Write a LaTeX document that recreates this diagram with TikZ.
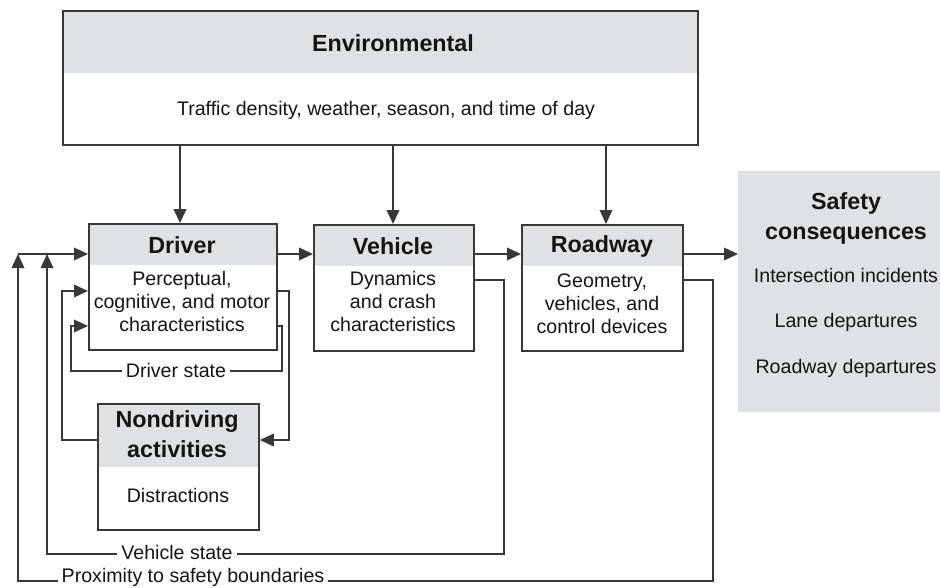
\documentclass[tikz,border=0pt]{standalone}
\usepackage{fontspec}
\setmainfont{Liberation Sans}
\usetikzlibrary{arrows.meta}
\definecolor{linec}{HTML}{383838}
\definecolor{hdr}{HTML}{E0E1E3}
\definecolor{txt}{HTML}{151515}
\begin{document}
\begin{tikzpicture}[x=1pt,y=-1pt,
  box/.style={draw=linec, line width=1.9pt, fill=white, inner sep=0pt, anchor=north west},
  hbox/.style={box, path picture={\fill[hdr] (path picture bounding box.north west) rectangle ([yshift=-#1]path picture bounding box.north east);}},
  hd/.style={font=\fontsize{23.3}{29.5}\selectfont\bfseries, text=txt, align=center, inner sep=0pt},
  bd/.style={font=\fontsize{19.6}{23}\selectfont, text=txt, align=center, inner sep=0pt},
  lbl/.style={bd, inner xsep=4pt},
  ln/.style={draw=linec, line width=1.9pt},
  arr/.style={ln, -{Triangle[length=14pt,width=12.5pt]}}]
\useasboundingbox (0,0) rectangle (940,587);

% boxes
\node[hbox=62pt, minimum width=635pt, minimum height=134pt] (env) at (62,10) {};
\node[hd] (envh) at (393,43) {Environmental};
\node[bd] (envb) at (386,110) {Traffic density, weather, season, and time of day};

\node[hbox=41pt, minimum width=188pt, minimum height=126pt] (drv) at (88,223) {};
\node[hd] (drvh) at (182,245) {Driver};
\node[bd] (drvb) at (182,301) {Perceptual,\\cognitive, and motor\\characteristics};

\node[hbox=41pt, minimum width=160pt, minimum height=126pt] (veh) at (313,224) {};
\node[hd] (vehh) at (393,246) {Vehicle};
\node[bd] (vehb) at (393,301) {Dynamics\\and crash\\characteristics};

\node[hbox=41pt, minimum width=161pt, minimum height=126pt] (road) at (521,224) {};
\node[hd] (roadh) at (602,246) {Roadway};
\node[bd] (roadb) at (602,304) {Geometry,\\vehicles, and\\control devices};

\node[fill=hdr, inner sep=0pt, anchor=north west, minimum width=210pt, minimum height=241pt] (safe) at (738,171) {};
\node[hd, font=\fontsize{23.3}{30}\selectfont\bfseries] (safeh) at (846,218) {Safety\\consequences};
\node[bd] (s1) at (846,275) {Intersection incidents};
\node[bd] (s2) at (846,322) {Lane departures};
\node[bd] (s3) at (846,368) {Roadway departures};

\node[hbox=63pt, minimum width=161pt, minimum height=126pt] (nd) at (97,403) {};
\node[hd] (ndh) at (177,434) {Nondriving\\activities};
\node[bd] (ndb) at (178,495) {Distractions};

% labels
\node[lbl] (dsl) at (176,370) {Driver state};
\node[lbl] (vsl) at (177,552) {Vehicle state};
\node[lbl] (pxl) at (193,577) {Proximity to safety boundaries};

% helper coordinates
\coordinate (rA) at (0,254);
\coordinate (rNd) at (0,291);
\coordinate (rDs) at (0,326);
\coordinate (rDsB) at (0,371);
\coordinate (rNd2) at (0,440);
\coordinate (rOut) at (0,280);
\coordinate (rVs) at (0,554);
\coordinate (rPx) at (0,581);
\coordinate (cP) at (18,0);
\coordinate (cV) at (47,0);
\coordinate (cN) at (62,0);
\coordinate (cD) at (71,0);
\coordinate (cDr) at (282,0);
\coordinate (cNr) at (289,0);
\coordinate (cVr) at (504,0);
\coordinate (cRr) at (713,0);
\coordinate (cE1) at (180,0);
\coordinate (cE2) at (393,0);
\coordinate (cE3) at (606,0);

% environment arrows
\draw[arr] (env.south -| cE1) -- (drv.north -| cE1);
\draw[arr] (env.south -| cE2) -- (veh.north -| cE2);
\draw[arr] (env.south -| cE3) -- (road.north -| cE3);

% main chain
\draw[arr] (drv.east |- rA) -- (veh.west |- rA);
\draw[arr] (veh.east |- rA) -- (road.west |- rA);
\draw[arr] (road.east |- rA) -- (safe.west |- rA);
\draw[arr] (cP |- rA) -- (drv.west |- rA);

% driver state loop
\draw[ln] (drv.east |- rDs) -| (cDr |- rDsB) -- (dsl.east |- rDsB);
\draw[arr] (dsl.west |- rDsB) -| (cD |- rDs) -- (drv.west |- rDs);

% nondriving loop
\draw[arr] (drv.east |- rNd) -| (cNr |- rNd2) -- (nd.east |- rNd2);
\draw[arr] (nd.west |- rNd2) -| (cN |- rNd) -- (drv.west |- rNd);

% vehicle state
\draw[ln] (veh.east |- rOut) -| (cVr |- rVs) -- (vsl.east |- rVs);
\draw[arr] (vsl.west |- rVs) -| (cV |- rA);

% proximity
\draw[ln] (road.east |- rOut) -| (cRr |- rPx) -- (pxl.east |- rPx);
\draw[arr] (pxl.west |- rPx) -| (cP |- rA);
\end{tikzpicture}
\end{document}
